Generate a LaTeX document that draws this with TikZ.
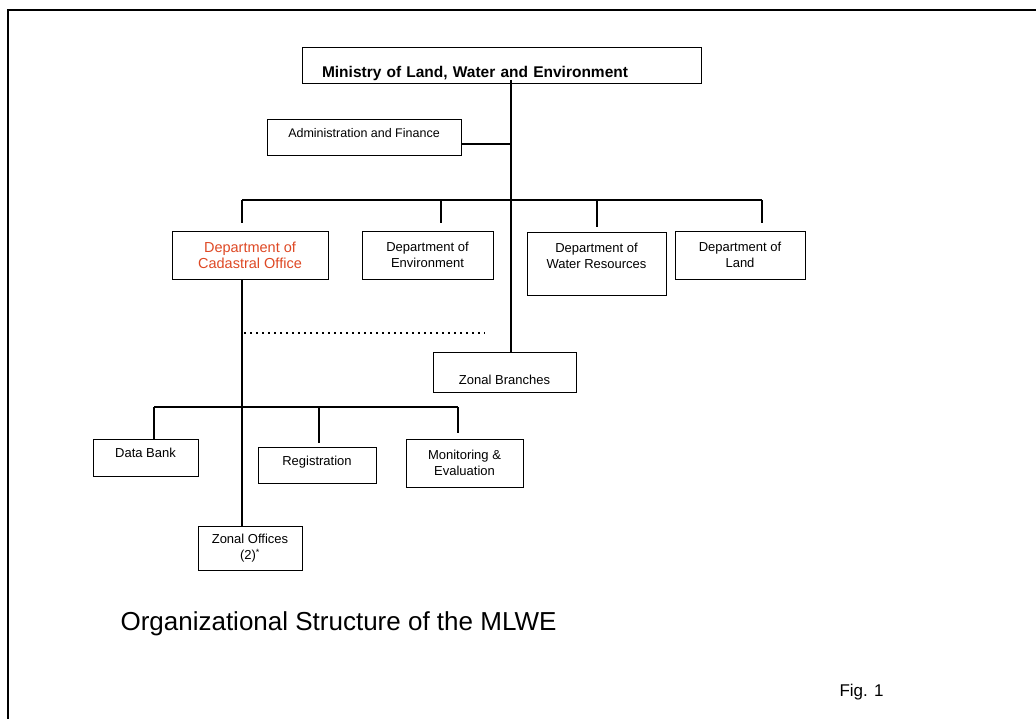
\documentclass[tikz,border=0pt]{standalone}
\usepackage{fontspec}
\setmainfont{Liberation Sans}
\usetikzlibrary{positioning}
\definecolor{rust}{RGB}{222,72,36}
\tikzset{
  unit/.style={draw,line width=1pt,inner sep=0pt,align=center,
    font=\fontsize{13}{16}\selectfont},
  bus/.style={line width=2.2pt},
  tie/.style={line width=1.2pt},
  dots/.style={line width=1.6pt,dash pattern=on 1.6pt off 4.4pt},
}

\begin{document}
\begin{tikzpicture}[x=1pt,y=-1pt]
  \useasboundingbox (0,0) rectangle (1036,718);
  % frame
  \draw[line width=2.6pt] (1040,10) -- (8,10) -- (8,722);

  \node[unit,minimum width=399pt,text width=359pt,align=left,text height=30pt,text depth=6pt,
    font=\fontsize{15.5}{18}\selectfont\bfseries] (ministry) at (501.5,65) {Ministry of Land, Water and Environment};
  \node[unit,minimum width=194pt,text height=18pt,text depth=18pt,font=\fontsize{12.5}{15}\selectfont] (admin) at (364,137) {Administration and Finance};

  \node[unit,minimum width=156pt,minimum height=48pt,text=rust,font=\fontsize{14.5}{16}\selectfont] (cadastral) at (250,255) {Department of\\Cadastral Office};
  \node[unit,minimum width=131pt,minimum height=48pt] (environment) at (427.5,255) {Department of\\Environment};
  \node[unit,minimum width=139pt,text height=36pt,text depth=27pt] (water) at (596.5,263.5) {Department of\\Water Resources};
  \node[unit,minimum width=130pt,minimum height=48pt] (land) at (740,255) {Department of\\Land};

  \node[unit,minimum width=143pt,text height=32pt,text depth=8pt] (zonalbr) at (504.5,372) {Zonal Branches};
  \node[unit,minimum width=105pt,text height=18pt,text depth=19pt] (databank) at (145.5,457.5) {Data Bank};
  \node[unit,minimum width=118pt,text height=18pt,text depth=18pt] (registration) at (317,465) {Registration};
  \node[unit,minimum width=117pt,minimum height=48pt] (monitoring) at (464.5,463) {Monitoring \&\\Evaluation};
  \node[unit,minimum width=104pt,minimum height=44pt] (zonaloff) at (250,548) {Zonal Offices\\(2)\textsuperscript{*}};

  \node[font=\fontsize{26}{30}\selectfont,anchor=base west] (caption) at (117,630) {Organizational Structure of the MLWE};
  \node[font=\fontsize{17}{20}\selectfont,anchor=base west] (fig) at (836,696) {Fig. 1};

  \coordinate (trunk) at (511,0);
  \coordinate (busA) at (242,200);
  \coordinate (busB) at (762,200);
  \coordinate (busC) at (154,407);
  \coordinate (busD) at (458,407);
  \coordinate (dotA) at (244,333);
  \coordinate (dotB) at (485,333);

  \draw[tie] ([yshift=4pt]ministry.south -| trunk) -- (zonalbr.north -| trunk);
  \draw[bus] ([yshift=-7pt]admin.east) -- ([yshift=-7pt]admin.east -| trunk);
  \draw[bus] (busA) -- (busB);
  \foreach \d/\x/\g in {cadastral/242/8,environment/441/8,water/597/5,land/762/8}
    \draw[tie,shorten >=\g pt] (\x,200) -- (\d.north -| \x,0);
  \draw[tie] (cadastral.south -| busA) -- (zonaloff.north -| busA);
  \draw[dots] (dotA) -- (dotB);

  \draw[bus] (busC) -- (busD);
  \draw[tie] (busC) -- (databank.north -| busC);
  \draw[bus,shorten >=4pt] (319,407) -- (registration.north -| 319,0);
  \draw[tie,shorten >=6pt] (busD) -- (monitoring.north -| busD);
\end{tikzpicture}
\end{document}
